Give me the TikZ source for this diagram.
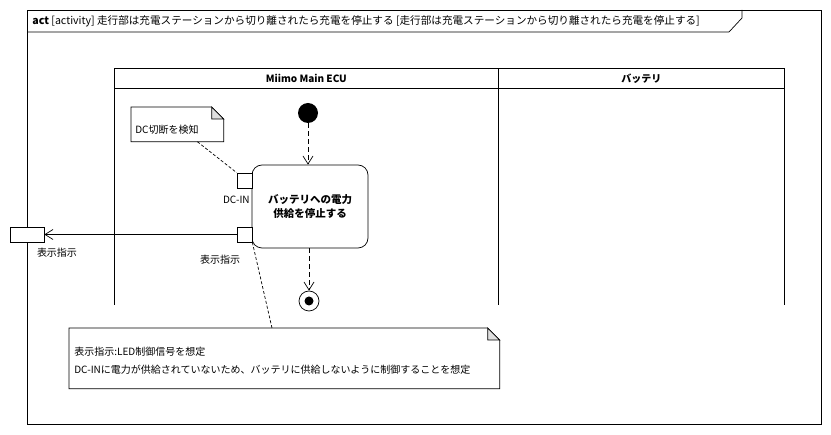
\documentclass[tikz,border=0pt]{standalone}
\usepackage{fontspec}
\setmainfont{Noto Sans CJK JP}
\usetikzlibrary{positioning,arrows.meta}

\begin{document}
\begin{tikzpicture}[x=1pt,y=-1pt,line width=0.7pt,font=\fontsize{10}{12}\selectfont,
    pin/.style={draw,fill=white,minimum size=15pt,inner sep=0pt},
    flow/.style={dash pattern=on 5pt off 3pt,-{Straight Barb[length=8pt,width=10pt]}},
    noteline/.style={dash pattern=on 3pt off 2pt},
    fold/.style={fill=gray!25}]
  \useasboundingbox (0,0) rectangle (831,435);
  %%%%% THE FRAME
  \draw (27,10) rectangle (821,424);
  \draw (27,32) -- (729,32) -- (742,18) -- (742,10);
  \node[anchor=west,inner sep=1pt,font=\fontsize{10.6}{12}\selectfont] (TITLE) at (31,21) {\textbf{act} [activity] 走行部は充電ステーションから切り離されたら充電を停止する [走行部は充電ステーションから切り離されたら充電を停止する]};
  %%%%% THE LANES
  \begin{scope}[every node/.style={draw,minimum height=20pt,anchor=north west,font=\fontsize{10}{12}\selectfont\bfseries}]
    \node[minimum width=384pt] (ECU) at (114,68) {Miimo Main ECU};
    \node[minimum width=286pt] (BATT) at (498,68) {バッテリ};
  \end{scope}
  \draw (ECU.south west) -- ++(0,216);
  \draw (ECU.south east) -- ++(0,216);
  \draw (BATT.south east) -- ++(0,216);
  %%%%% THE ACTIVITY
  \node[circle,fill,minimum size=20pt,inner sep=0pt] (INIT) at (308,113) {};
  \node[draw,rounded corners=10pt,minimum width=116pt,minimum height=83pt,align=center,font=\fontsize{10.5}{14}\selectfont\bfseries] (ACTION) at (310,206.5) {バッテリへの電力\\供給を停止する};
  \node[pin] (DCIN) at (244.5,180.5) {};
  \node[pin] (SIGNAL) at (244.5,234.5) {};
  \node[anchor=east,inner sep=1pt] (DCINLBL) at (251,200) {DC-IN};
  \node (SIGNALLBL) at (220,260) {表示指示};
  \node[circle,draw,minimum size=20pt,inner sep=0pt] (FINAL) at (309,301) {};
  \fill (FINAL.center) circle (4.5pt);
  \node[draw,fill=white,minimum width=34pt,minimum height=15pt,inner sep=0pt] (EXT) at (27,234.5) {};
  \node (EXTLBL) at (57,253) {表示指示};
  % Flows
  \draw[flow] (INIT) -- (INIT |- ACTION.north);
  \draw[flow] (ACTION.south -| FINAL) -- (FINAL);
  \draw[-{Straight Barb[length=8pt,width=10pt]}] (SIGNAL) -- (EXT);
  %%%%% THE NOTES
  \node[minimum width=92pt,minimum height=34pt,anchor=north west] (DETECT) at (131,107) {};
  \draw (DETECT.north west) -- ([xshift=-12pt]DETECT.north east) -- ([yshift=-12pt]DETECT.north east) -- (DETECT.south east) -- (DETECT.south west) -- cycle;
  \filldraw[fold] ([xshift=-12pt]DETECT.north east) -- ([xshift=-12pt,yshift=-12pt]DETECT.north east) -- ([yshift=-12pt]DETECT.north east) -- cycle;
  \node[anchor=west,inner sep=0pt] (DETECTTXT) at (135,130) {DC切断を検知};
  \node[minimum width=430pt,minimum height=60pt,anchor=north west] (ASSUME) at (69,328) {};
  \draw (ASSUME.north west) -- ([xshift=-12pt]ASSUME.north east) -- ([yshift=-12pt]ASSUME.north east) -- (ASSUME.south east) -- (ASSUME.south west) -- cycle;
  \filldraw[fold] ([xshift=-12pt]ASSUME.north east) -- ([xshift=-12pt,yshift=-12pt]ASSUME.north east) -- ([yshift=-12pt]ASSUME.north east) -- cycle;
  \node[anchor=west,inner sep=0pt] (ASSUMETXTA) at (74,352) {表示指示:LED制御信号を想定};
  \node[anchor=west,inner sep=0pt] (ASSUMETXTB) at (74,370) {DC-INに電力が供給されていないため、バッテリに供給しないように制御することを想定};
  % Links from the notes
  \draw[noteline] ([xshift=20pt]DETECT.south) -- (DCIN.north west);
  \draw[noteline] (SIGNAL.south east) -- ([xshift=203pt]ASSUME.north west);
\end{tikzpicture}
\end{document}
